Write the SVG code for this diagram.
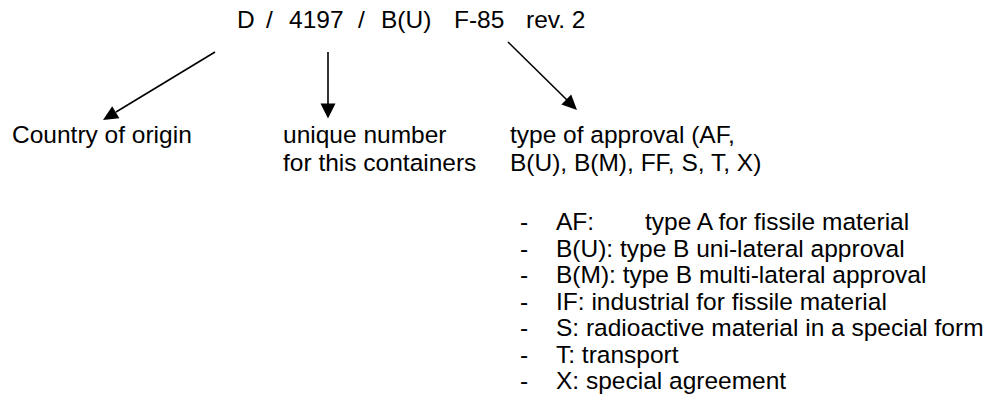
<svg xmlns="http://www.w3.org/2000/svg" width="997" height="409" viewBox="0 0 997 409">
<style>
text{font-family:"Liberation Sans",Arial,sans-serif;font-size:24.5px;fill:#000}
.c{stroke:#000;stroke-width:1.6;fill:none}
.h{fill:#000;stroke:none}
</style>
<rect width="997" height="409" fill="#fff"/>
<g id="title">
<text y="28"><tspan x="237">D</tspan><tspan x="266">/</tspan><tspan x="289">4197</tspan><tspan x="358">/</tspan><tspan x="381">B(U)</tspan><tspan x="454">F-85</tspan><tspan x="526">rev. 2</tspan></text>
</g>
<g id="connectors">
<line class="c" x1="215" y1="52" x2="116" y2="112"/>
<path class="h" d="M103,120 L119.4,118.2 L112.2,106.2 z"/>
<line class="c" x1="328" y1="52" x2="328" y2="104"/>
<path class="h" d="M328,118.5 L320.5,103.5 L335.5,103.5 z"/>
<line class="c" x1="508" y1="42" x2="567" y2="100"/>
<path class="h" d="M577,110 L561.4,104.5 L571.2,94.5 z"/>
</g>
<g id="country">
<text x="12" y="143">Country of origin</text>
</g>
<g id="unique">
<text x="283" y="143">unique number</text>
<text x="283" y="171">for this containers</text>
</g>
<g id="type">
<text x="510" y="143">type of approval (AF,</text>
<text x="510" y="171">B(U), B(M), FF, S, T, X)</text>
</g>
<g id="list">
<text x="520" y="230">-</text><text x="556" y="230">AF:</text><text x="645" y="230">type A for fissile material</text>
<text x="520" y="256.5">-</text><text x="556" y="256.5">B(U): type B uni-lateral approval</text>
<text x="520" y="283">-</text><text x="556" y="283">B(M): type B multi-lateral approval</text>
<text x="520" y="309.5">-</text><text x="556" y="309.5">IF: industrial for fissile material</text>
<text x="520" y="336">-</text><text x="556" y="336">S: radioactive material in a special form</text>
<text x="520" y="362.5">-</text><text x="556" y="362.5">T: transport</text>
<text x="520" y="389">-</text><text x="556" y="389">X: special agreement</text>
</g>
</svg>
